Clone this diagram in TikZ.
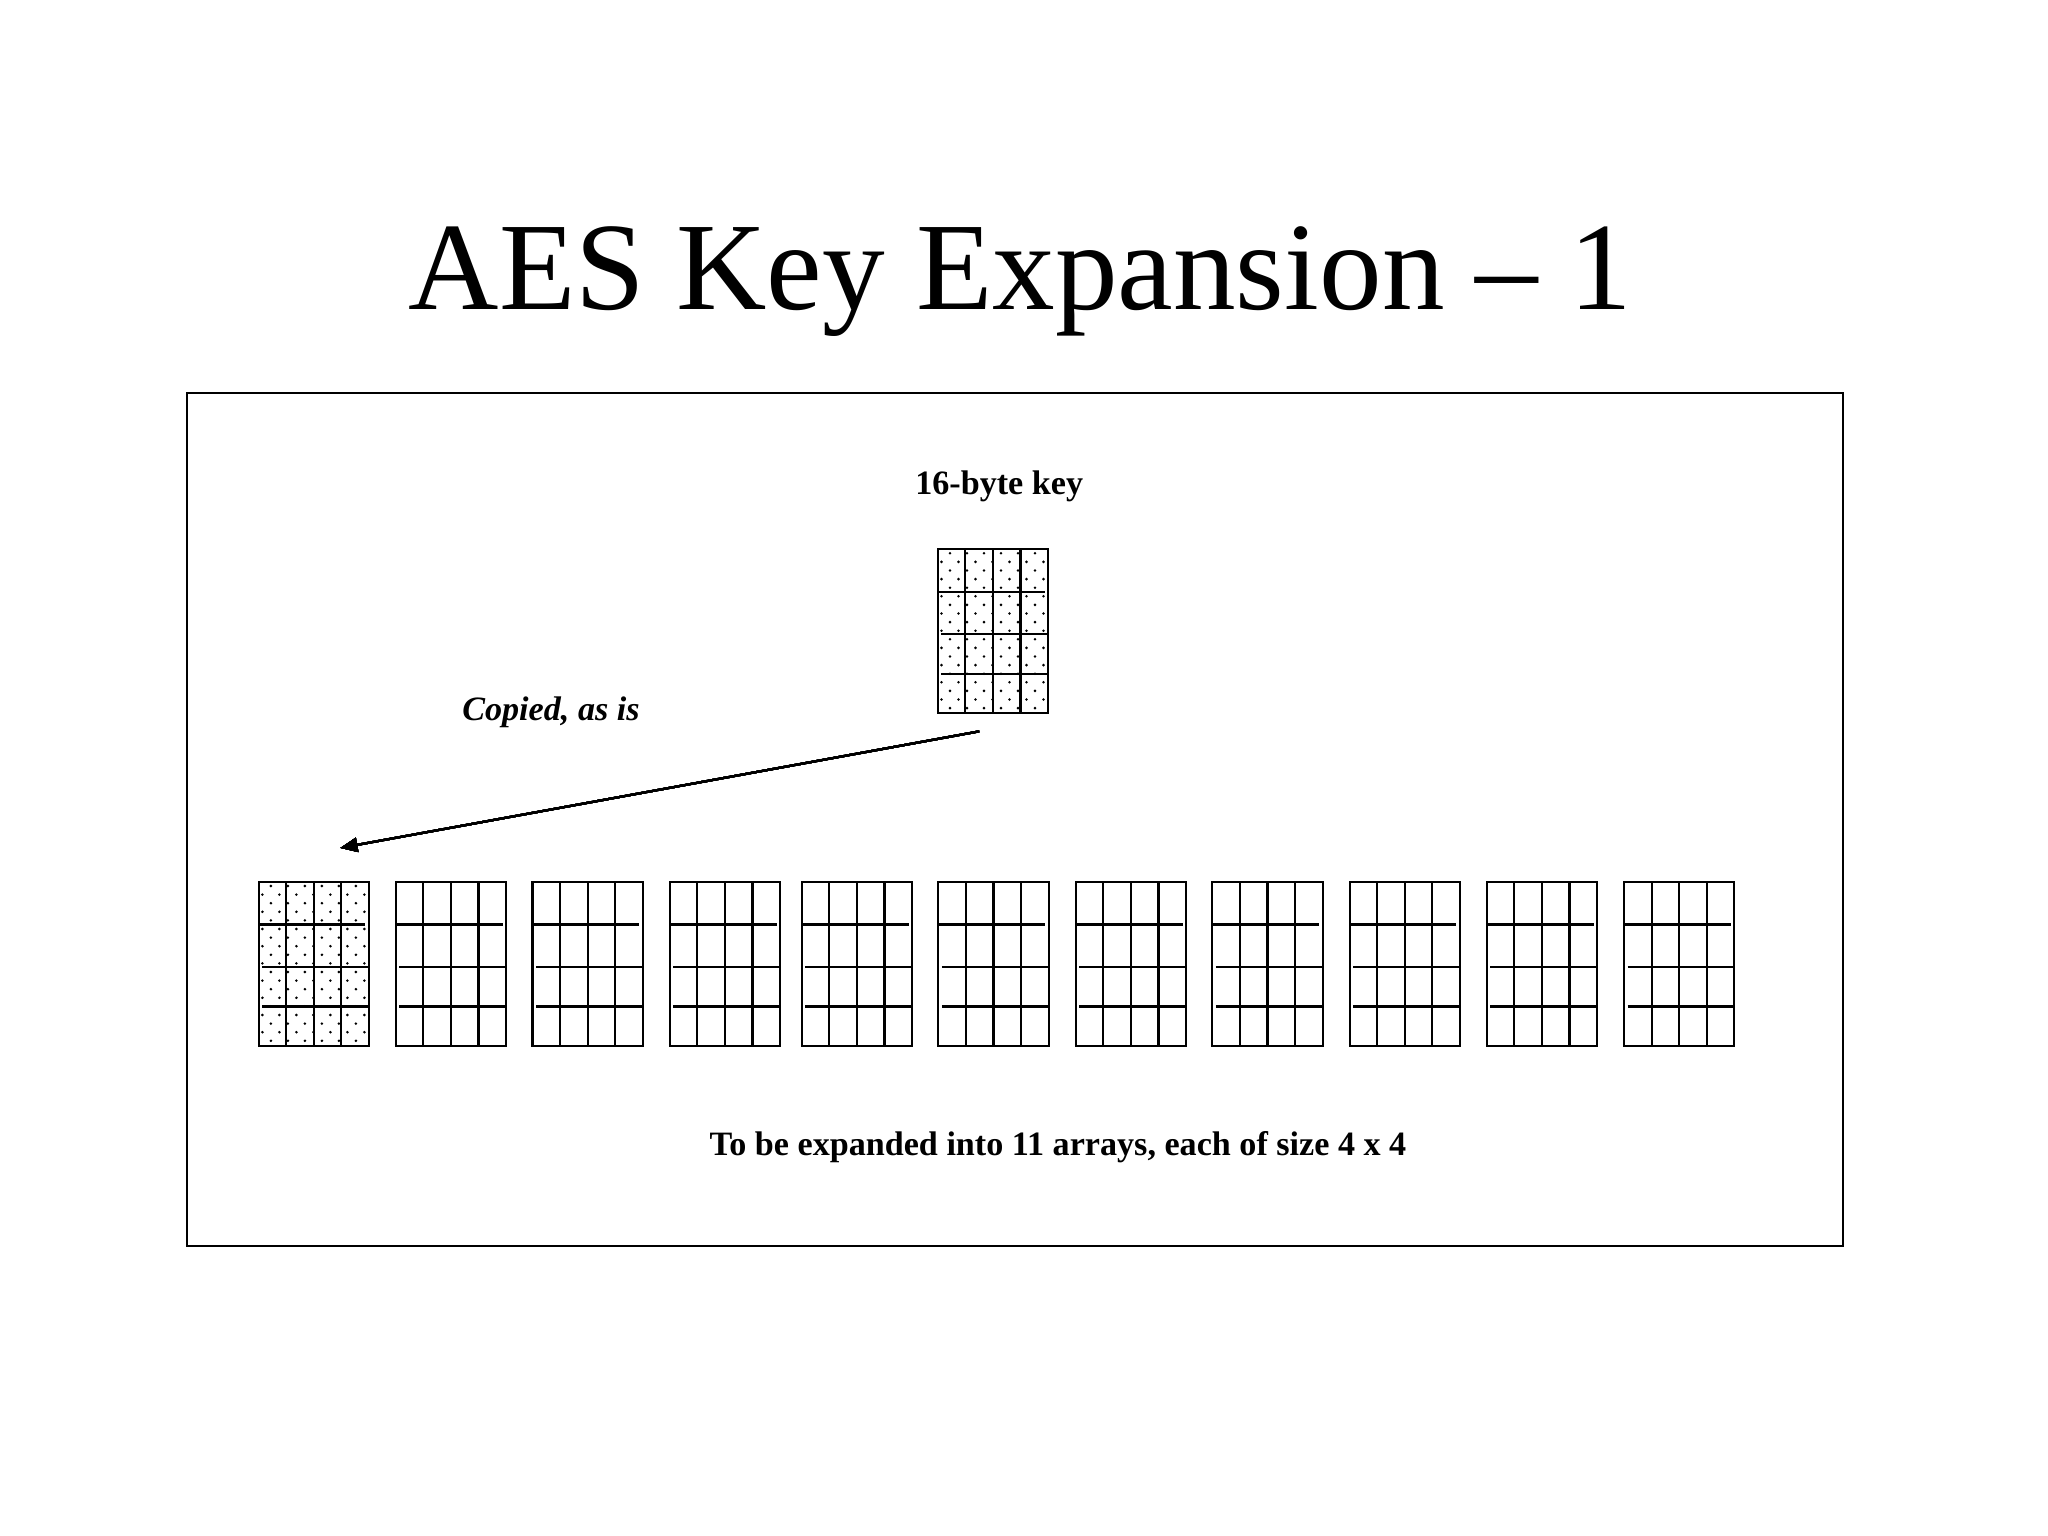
\documentclass[tikz,border=0pt]{standalone}
\usepackage{fontspec}
\setmainfont{Liberation Serif}
\usetikzlibrary{arrows.meta,calc}

\tikzset{
  linea/.style={line width=0.75pt},
  arreglo/.style={draw, line width=0.75pt, inner sep=0pt, minimum width=38.78pt, minimum height=57.66pt},
  texto/.style={anchor=base, font=\fontsize{12}{14}\selectfont\bfseries},
}

% rejilla 4 x 4: nombre, esquina superior izquierda
\newcommand{\rejilla}[3]{
  \node[arreglo] (#1) at (#2+\ancho/2,#3+\alto/2) {};
  \foreach \c in {1,2,3}
    \draw[linea] (#2+\c*\col,#3) -- ++(0,\alto);
  \draw[linea] (#2,#3+42.5) -- ++(\ancho-3.5,0);
  \draw[linea] (#2+3.5,#3+85) -- ++(\ancho-3.5,0);
  \draw[linea] (#2+3.5,#3+124.5) -- ++(\ancho-3.5,0);
}
% relleno de puntos
\newcommand{\puntos}[2]{
  \begin{scope}
    \clip (#1,#2) rectangle ++(\ancho,\alto);
    \foreach \j in {0,...,18} {
      \pgfmathsetmacro\dx{mod(\j,2)==0 ? 12.3 : 3.8}
      \foreach \i in {0,...,6}
        \fill (#1+\dx+17*\i,#2+4+8.6*\j) circle [radius=0.5pt];
    }
  \end{scope}
}

\begin{document}
\begin{tikzpicture}[x=0.3515625pt,y=-0.3515625pt]
		\def\ancho{110.3}
		\def\alto{164}
		\def\col{27.575}
		\useasboundingbox (0,0) rectangle (2048,1536);
		\node[anchor=base, font=\fontsize{44}{52}\selectfont] (titulo) at (1020.5,310) {AES Key Expansion – 1};
		\draw[linea] (187,392.7) rectangle (1842.7,1245.7); % marco
		% clave
		\node[texto] (lblclave) at (999.2,494.3) {16-byte key};
		\puntos{937.7}{549.3}
		\rejilla{clave}{937.7}{549.3}
		% arreglos expandidos
		\puntos{258.6}{882}
		\foreach \i/\x in {0/258.6,1/395.8,2/532.5,3/669.7,4/801.7,5/938.3,6/1075.8,7/1212.4,8/1349.6,9/1486.8,10/1624}
		\rejilla{w\i}{\x}{882}
		\draw[linea, -{Triangle[length=6pt,width=5pt]}] ($(clave.south)+(-13.7,17)$) -- ($(w0.north east)+(-29.6,-33)$);
		\node[texto, font=\fontsize{12}{14}\selectfont\bfseries\itshape] (lblcopia) at (551,720) {Copied, as is};
		\node[texto] (lblexp) at (1058,1155) {To be expanded into 11 arrays, each of size 4 x 4};
\end{tikzpicture}
\end{document}
